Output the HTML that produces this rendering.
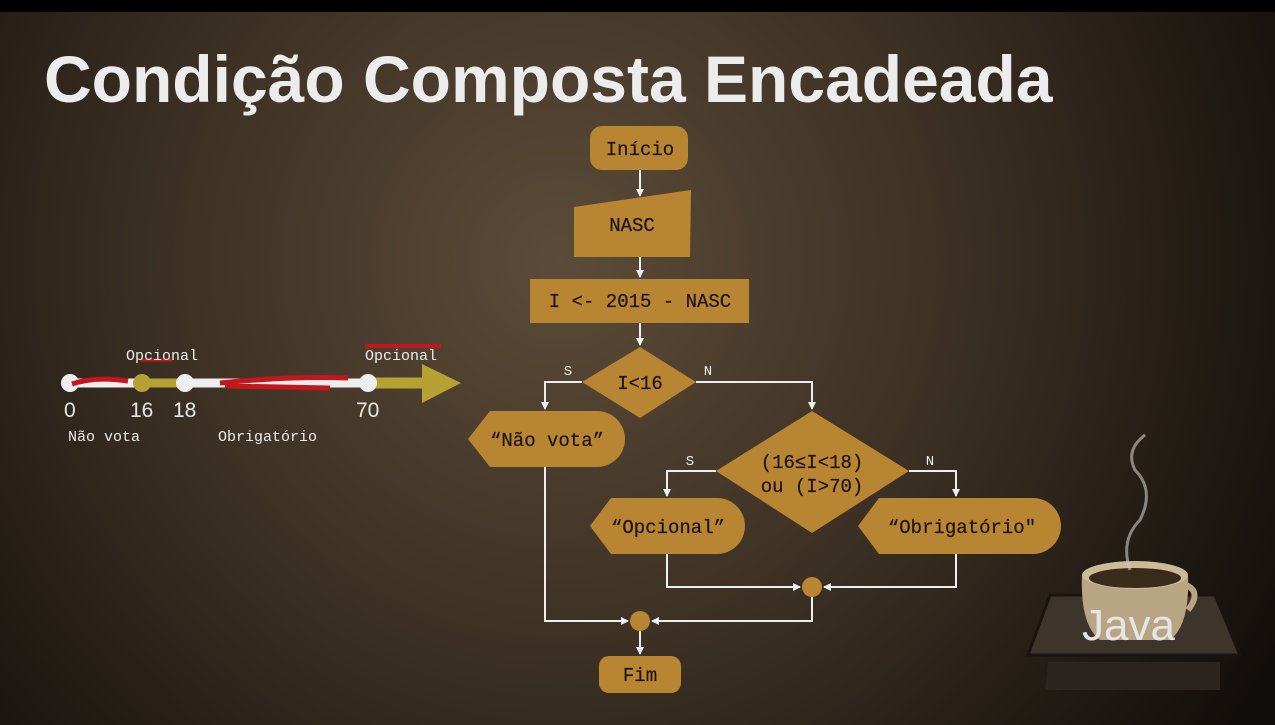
<!DOCTYPE html>
<html><head><meta charset="utf-8"><style>
html,body{margin:0;padding:0;width:1275px;height:725px;overflow:hidden;background:#1a140f}
svg{display:block}
.m{font-family:"Liberation Mono",monospace;fill:#1c140a;stroke:#1c140a;stroke-width:0.2}
.w{font-family:"Liberation Mono",monospace;fill:#eee}
</style></head><body>
<svg width="1275" height="725" viewBox="0 0 1275 725" xmlns="http://www.w3.org/2000/svg">
<defs>
<radialGradient id="bg" cx="560" cy="260" r="820" gradientUnits="userSpaceOnUse">
<stop offset="0" stop-color="#5c4b38"/><stop offset="0.45" stop-color="#3e3225"/><stop offset="1" stop-color="#120e0b"/>
</radialGradient>
<marker id="a" markerWidth="8" markerHeight="8" refX="7" refY="4" orient="auto" markerUnits="userSpaceOnUse"><path d="M0,0 L8,4 L0,8 Z" fill="#eee"/></marker>
</defs>
<rect width="1275" height="725" fill="url(#bg)"/>
<rect width="1275" height="12" fill="#000"/>
<text x="44" y="102" font-family="Liberation Sans, sans-serif" font-weight="bold" font-size="66" fill="#ececec">Condição Composta Encadeada</text>

<!-- timeline -->
<line x1="70" y1="383" x2="142" y2="383" stroke="#eee" stroke-width="9"/>
<line x1="142" y1="383" x2="185" y2="383" stroke="#b5a232" stroke-width="9"/>
<line x1="185" y1="383" x2="368" y2="383" stroke="#eee" stroke-width="9"/>
<line x1="368" y1="383" x2="425" y2="383" stroke="#b5a232" stroke-width="11"/>
<polygon points="422,364 461,383 422,403" fill="#b5a232"/>
<circle cx="70" cy="383" r="9" fill="#eee"/>
<circle cx="142" cy="383" r="9" fill="#b5a232"/>
<circle cx="185" cy="383" r="9" fill="#eee"/>
<circle cx="368" cy="383" r="9" fill="#eee"/>
<path d="M72,384 Q95,376 128,381" stroke="#c4161c" stroke-width="5" fill="none"/>
<path d="M220,383 Q290,376 348,378 M225,386 L330,388" stroke="#c4161c" stroke-width="5" fill="none"/>
<path d="M140,360 L172,360" stroke="#c4161c" stroke-width="3"/>
<path d="M365,346 L441,346" stroke="#c4161c" stroke-width="4"/>
<text x="126" y="360" class="w" font-size="15">Opcional</text>
<text x="365" y="360" class="w" font-size="15">Opcional</text>
<g font-family="Liberation Sans, sans-serif" font-size="21" fill="#e8e8e8">
<text x="64" y="417">0</text><text x="130" y="417">16</text><text x="173" y="417">18</text><text x="356" y="417">70</text></g>
<text x="68" y="441" class="w" font-size="15">Não vota</text>
<text x="218" y="441" class="w" font-size="15">Obrigatório</text>

<!-- flowchart connectors -->
<g stroke="#eee" stroke-width="2" fill="none">
<line x1="640" y1="170" x2="640" y2="196" marker-end="url(#a)"/>
<line x1="640" y1="257" x2="640" y2="277" marker-end="url(#a)"/>
<line x1="640" y1="323" x2="640" y2="345" marker-end="url(#a)"/>
<polyline points="582,382 545,382 545,409" marker-end="url(#a)"/>
<polyline points="696,382 812,382 812,409" marker-end="url(#a)"/>
<polyline points="716,471 667,471 667,496" marker-end="url(#a)"/>
<polyline points="909,471 956,471 956,496" marker-end="url(#a)"/>
<polyline points="667,554 667,587 800,587" marker-end="url(#a)"/>
<polyline points="956,554 956,587 824,587" marker-end="url(#a)"/>
<polyline points="545,467 545,621 628,621" marker-end="url(#a)"/>
<polyline points="812,597 812,621 652,621" marker-end="url(#a)"/>
<line x1="640" y1="631" x2="640" y2="654" marker-end="url(#a)"/>
</g>
<g fill="#b88532">
<rect x="590" y="126" width="98" height="44" rx="12"/>
<polygon points="574,207 691,190 690,257 574,257"/>
<rect x="530" y="279" width="219" height="44"/>
<polygon points="640,347 696,382 640,418 582,382"/>
<path d="M490,411 L597,411 A28,28 0 0 1 597,467 L490,467 L468,439 Z"/>
<polygon points="812,411 909,471 812,533 716,471"/>
<path d="M611,498 L717,498 A28,28 0 0 1 717,554 L611,554 L590,526 Z"/>
<path d="M879,498 L1033,498 A28,28 0 0 1 1033,554 L879,554 L858,526 Z"/>
<circle cx="812" cy="587" r="10"/>
<circle cx="640" cy="621" r="10"/>
<rect x="599" y="656" width="82" height="37" rx="10"/>
</g>
<g class="m" font-size="19" text-anchor="middle">
<text x="640" y="155">Início</text>
<text x="632" y="231">NASC</text>
<text x="640" y="307">I &lt;- 2015 - NASC</text>
<text x="640" y="389">I&lt;16</text>
<text x="547" y="446">“Não vota”</text>
<text x="812" y="468">(16≤I&lt;18)</text>
<text x="812" y="492">ou (I&gt;70)</text>
<text x="668" y="533">“Opcional”</text>
<text x="962" y="533">“Obrigatório"</text>
<text x="640" y="681">Fim</text>
</g>
<g class="w" font-size="14" text-anchor="middle">
<text x="568" y="375">S</text><text x="708" y="375">N</text>
<text x="690" y="465">S</text><text x="930" y="465">N</text>
</g>

<!-- java logo -->
<polygon points="1050,595 1215,595 1240,655 1028,655" fill="#3d342c" stroke="#1a1410" stroke-width="3"/>
<polygon points="1048,662 1220,662 1220,690 1045,690" fill="#2c251f"/>
<path d="M1082,575 Q1080,625 1100,640 L1170,640 Q1190,625 1188,575 Z" fill="#b8a584"/>
<ellipse cx="1135" cy="575" rx="53" ry="14" fill="#cdbb98"/>
<ellipse cx="1135" cy="578" rx="46" ry="10" fill="#3a2a1a"/>
<path d="M1186,585 Q1202,592 1188,610" stroke="#b8a584" stroke-width="6" fill="none"/>
<path d="M1130,570 Q1120,540 1140,520 Q1155,490 1135,470 Q1125,450 1145,435" stroke="#ccc" stroke-width="3" fill="none" opacity="0.6"/>
<text x="1082" y="640" font-family="Liberation Sans, sans-serif" font-size="44" fill="#e5e5e5">Java</text>
</svg>
</body></html>
